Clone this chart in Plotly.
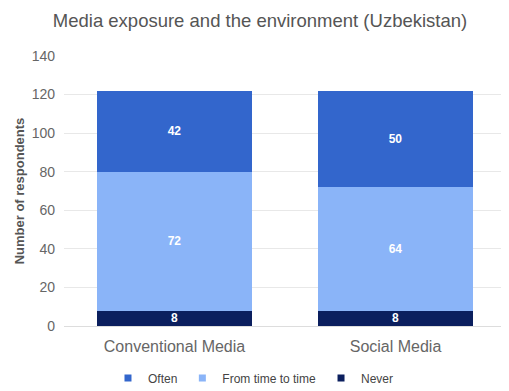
import plotly.graph_objects as go

categories = ["Conventional Media", "Social Media"]
never = [8, 8]
sometimes = [72, 64]
often = [42, 50]

FONT = "Liberation Sans, Arial"
COLORS = {"Never": "#0B1F5E", "From time to time": "#8AB4F8", "Often": "#3366CC"}

fig = go.Figure()
for name, vals in [("Never", never), ("From time to time", sometimes), ("Often", often)]:
    fig.add_trace(go.Bar(
        x=categories, y=vals, name=name, marker_color=COLORS[name],
        marker_line_width=0, showlegend=False,
        text=vals, textposition="inside", insidetextanchor="middle", textangle=0,
        textfont=dict(color="white", size=12, family=FONT),
        texttemplate="<b>%{text}</b>",
    ))

# small square legend markers
for name in ["Often", "From time to time", "Never"]:
    fig.add_trace(go.Scatter(
        x=[None], y=[None], mode="markers", name=name,
        marker=dict(symbol="square", size=7, color=COLORS[name]),
    ))

# page body adds an 8px offset, so the figure is 8px smaller each way
fig.update_layout(
    barmode="stack",
    bargap=0.3,
    width=501, height=383,
    margin=dict(l=56, r=3, t=48, b=65),
    paper_bgcolor="white", plot_bgcolor="white",
    font=dict(family=FONT, color="#666666", size=12),
    title=dict(text="Media exposure and the environment (Uzbekistan)", x=0.503, xanchor="center",
               xref="container", yref="container",
               y=1 - 13 / 383, yanchor="middle", font=dict(size=18.5, color="#555555", family=FONT)),
    legend=dict(orientation="h", x=0.49, xanchor="center", xref="container", yref="container",
                y=13 / 383, yanchor="middle", traceorder="normal",
                font=dict(size=12, color="#444444"),
                itemwidth=30, tracegroupgap=0),
    uniformtext=dict(minsize=12, mode="show"),
)
fig.update_yaxes(range=[0, 140], dtick=20, gridcolor="#E8E8E8", zeroline=False, automargin=False,
                 ticklabelstandoff=8,
                 title=dict(text="<b>Number of respondents</b>", font=dict(size=13, color="#555555"), standoff=4),
                 tickfont=dict(size=14, color="#666666"))
fig.update_xaxes(showline=True, linecolor="#DDDDDD", automargin=False, ticklabelstandoff=6,
                 tickfont=dict(size=16, color="#666666"))

fig.write_html("out.html")
